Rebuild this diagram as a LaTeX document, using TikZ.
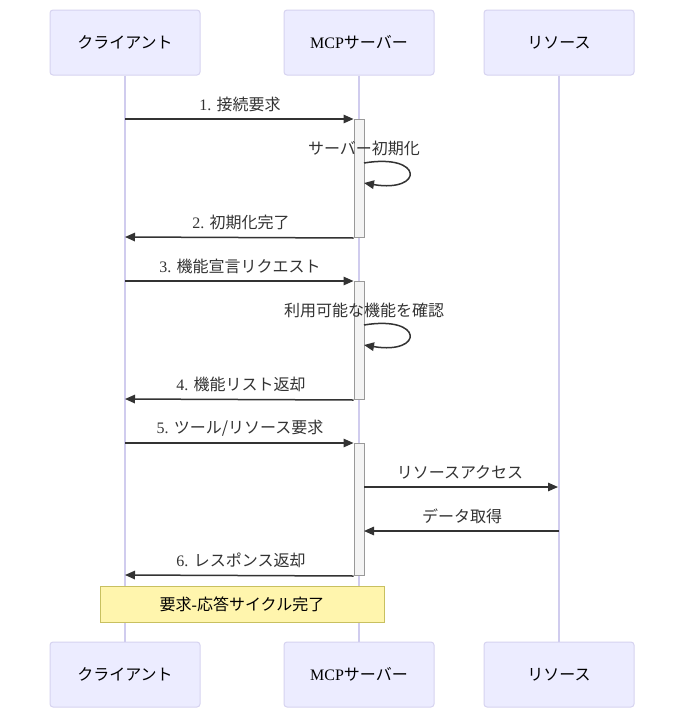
\documentclass[tikz,border=0pt]{standalone}
\usepackage{fontspec}
\setmainfont{Liberation Serif}
\newfontfamily\jp{Noto Sans CJK JP}
\usetikzlibrary{arrows.meta}
\definecolor{actorfill}{HTML}{ECECFF}
\definecolor{actorline}{HTML}{D6D3F0}
\definecolor{lifec}{HTML}{D0CCEE}
\definecolor{msgc}{HTML}{333333}
\definecolor{actb}{HTML}{999999}
\definecolor{actf}{HTML}{F4F4F4}
\definecolor{notef}{HTML}{FFF5AD}
\definecolor{noteb}{HTML}{C8C060}
\newcommand\fs{\fontsize{16}{19}\selectfont}
\begin{document}
\begin{tikzpicture}[x=1pt,y=-1pt,
 actor/.style={draw=actorline, fill=actorfill, rounded corners=3pt, minimum width=150pt, minimum height=65pt, line width=1pt, font=\fs, text=black, inner sep=0pt},
 msg/.style={draw=msgc, line width=1.5pt, -{Triangle[length=10pt,width=8.5pt]}},
 lbl/.style={text=msgc, font=\fs, inner sep=0pt},
 act/.style={draw=actb, fill=actf, line width=1pt, minimum width=10pt, inner sep=0pt, anchor=north},
 life/.style={draw=lifec, line width=1.5pt},
 note/.style={draw=noteb, fill=notef, line width=1pt, minimum width=284pt, minimum height=36pt, inner sep=0pt, font=\fs, text=black}]
\useasboundingbox[fill=white] (0,0) rectangle (684,718);
% actors
\node[actor] (c1) at (125,42.5) {\jp クライアント};
\node[actor] (s1) at (359,42.5) {MCP{\jp サーバー}};
\node[actor] (r1) at (559,42.5) {\jp リソース};
\node[actor] (c2) at (125,674.5) {\jp クライアント};
\node[actor] (s2) at (359,674.5) {MCP{\jp サーバー}};
\node[actor] (r2) at (559,674.5) {\jp リソース};
% lifelines
\draw[life] (c1.south) -- (c2.north);
\draw[life] (s1.south) -- (s2.north);
\draw[life] (r1.south) -- (r2.north);
% activations
\node[act, minimum height=118pt] (a1) at (359,119) {};
\node[act, minimum height=118pt] (a2) at (359,281) {};
\node[act, minimum height=132pt] (a3) at (359,443) {};
% lifeline points
\coordinate (cl1) at (125,119);
\coordinate (cl2) at (125,237);
\coordinate (cl3) at (125,281);
\coordinate (cl4) at (125,399);
\coordinate (cl5) at (125,443);
\coordinate (cl6) at (125,575);
\coordinate (rl1) at (558,487);
\coordinate (rl2) at (559,531);
\coordinate (sa1) at (364,487);
\coordinate (sa2) at (364,531);
\coordinate (l1s) at (364,163);
\coordinate (l1e) at (364,183);
\coordinate (l2s) at (364,325);
\coordinate (l2e) at (364,345);
% messages
\draw[msg] (cl1) -- (a1.north west);
\node[lbl] (t1) at (240,104) {1. {\jp 接続要求}};
\draw[msg] (l1s) .. controls (424,153) and (424,193) .. (l1e);
\node[lbl] (t1b) at (364,148) {\jp サーバー初期化};
\draw[msg] (a1.south west) -- (cl2);
\node[lbl] (t2) at (241,222) {2. {\jp 初期化完了}};
\draw[msg] (cl3) -- (a2.north west);
\node[lbl] (t3) at (240,266) {3. {\jp 機能宣言リクエスト}};
\draw[msg] (l2s) .. controls (424,315) and (424,355) .. (l2e);
\node[lbl] (t3b) at (364,310) {\jp 利用可能な機能を確認};
\draw[msg] (a2.south west) -- (cl4);
\node[lbl] (t4) at (241,384) {4. {\jp 機能リスト返却}};
\draw[msg] (cl5) -- (a3.north west);
\node[lbl] (t5) at (240,428) {5. {\jp ツール/リソース要求}};
\draw[msg] (sa1) -- (rl1);
\node[lbl] (t5b) at (460,472) {\jp リソースアクセス};
\draw[msg] (rl2) -- (sa2);
\node[lbl] (t5c) at (462,516) {\jp データ取得};
\draw[msg] (a3.south west) -- (cl6);
\node[lbl] (t6) at (241,560) {6. {\jp レスポンス返却}};
% note
\node[note] (n1) at (242,604) {{\jp 要求}-{\jp 応答サイクル完了}};
\end{tikzpicture}
\end{document}
